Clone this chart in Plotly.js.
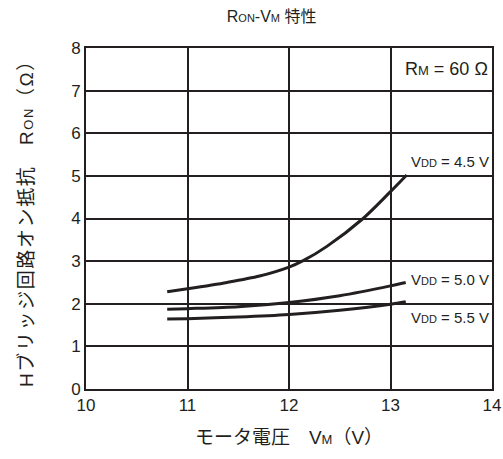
<!DOCTYPE html>
<html><head><meta charset="utf-8">
<script src="https://cdn.plot.ly/plotly-3.0.1.min.js"></script>
<style>body{margin:0;background:#fff}#chart{width:503px;height:459px}
.ytitle{letter-spacing:1.6px}</style>
</head><body><div id="chart"></div>
<script>
const vm45 = [10.8, 11.0, 11.39, 11.71, 12.0, 12.14, 12.37, 12.73, 13.0, 13.16];
const ron45 = [2.28, 2.35, 2.50, 2.65, 2.86, 3.01, 3.34, 4.0, 4.63, 5.02];
const vm50 = [10.8, 11.0, 11.5, 12.0, 12.5, 13.0, 13.15];
const ron50 = [1.87, 1.885, 1.93, 2.03, 2.19, 2.42, 2.5];
const vm55 = [10.8, 11.0, 11.5, 12.0, 12.5, 13.0, 13.15];
const ron55 = [1.64, 1.65, 1.69, 1.75, 1.85, 1.99, 2.05];
const seriesLabels = ['V<span style="font-size:11px">DD</span> = 4.5 V', 'V<span style="font-size:11px">DD</span> = 5.0 V', 'V<span style="font-size:11px">DD</span> = 5.5 V'];
const labelPos = [[13.99, 5.33], [13.99, 2.57], [13.99, 1.68]];
const xTicks = [10, 11, 12, 13, 14];
const yTicks = [0, 1, 2, 3, 4, 5, 6, 7, 8];

const font = 'Liberation Sans, Arial, "Noto Sans CJK JP", sans-serif';
const line = {color: '#231f20', width: 3, shape: 'spline', smoothing: 0.8};
const traces = [
  {x: vm45, y: ron45, mode: 'lines', line: line, hoverinfo: 'skip'},
  {x: vm50, y: ron50, mode: 'lines', line: line, hoverinfo: 'skip'},
  {x: vm55, y: ron55, mode: 'lines', line: line, hoverinfo: 'skip'}
];
const annotations = seriesLabels.map((t, i) => ({
  x: labelPos[i][0], y: labelPos[i][1], xref: 'x', yref: 'y', text: t,
  showarrow: false, xanchor: 'right', yanchor: 'middle',
  font: {family: font, size: 15, color: '#231f20'}
}));
annotations.push({
  x: 13.98, y: 7.5, xref: 'x', yref: 'y', text: 'R<span style="font-size:13px">M</span> = 60 Ω',
  showarrow: false, xanchor: 'right', yanchor: 'middle',
  font: {family: font, size: 18, color: '#231f20'}
});
const layout = {
  width: 503, height: 459,
  margin: {l: 86, r: 11, t: 48, b: 70},
  paper_bgcolor: '#fff', plot_bgcolor: '#fff',
  showlegend: false,
  title: {text: 'R<span style="font-size:11px">ON</span>-V<span style="font-size:11px">M</span> 特性', x: 0.54, xanchor: 'center', y: 0.965, yanchor: 'middle',
    font: {family: font, size: 16, color: '#231f20'}},
  xaxis: {range: [10, 14], tickvals: xTicks, ticktext: xTicks.map(String),
    showgrid: true, gridcolor: '#231f20', gridwidth: 2,
    showline: true, linecolor: '#231f20', linewidth: 2, mirror: true,
    ticks: '', zeroline: false, fixedrange: true,
    tickfont: {family: font, size: 17, color: '#231f20'},
    title: {text: 'モータ電圧　V<span style="font-size:13px">M</span>（V）', standoff: 16,
      font: {family: font, size: 19, color: '#231f20'}}},
  yaxis: {range: [0, 8], tickvals: yTicks, ticktext: yTicks.map(String),
    showgrid: true, gridcolor: '#231f20', gridwidth: 2,
    showline: true, linecolor: '#231f20', linewidth: 2, mirror: true,
    ticks: '', zeroline: false, fixedrange: true,
    tickfont: {family: font, size: 17, color: '#231f20'},
    title: {text: 'Hブリッジ回路オン抵抗　R<span style="font-size:13px">ON</span>（Ω）', standoff: 32,
      font: {family: font, size: 19, color: '#231f20'}}},
  annotations: annotations
};
Plotly.newPlot('chart', traces, layout, {staticPlot: true});
</script></body></html>
